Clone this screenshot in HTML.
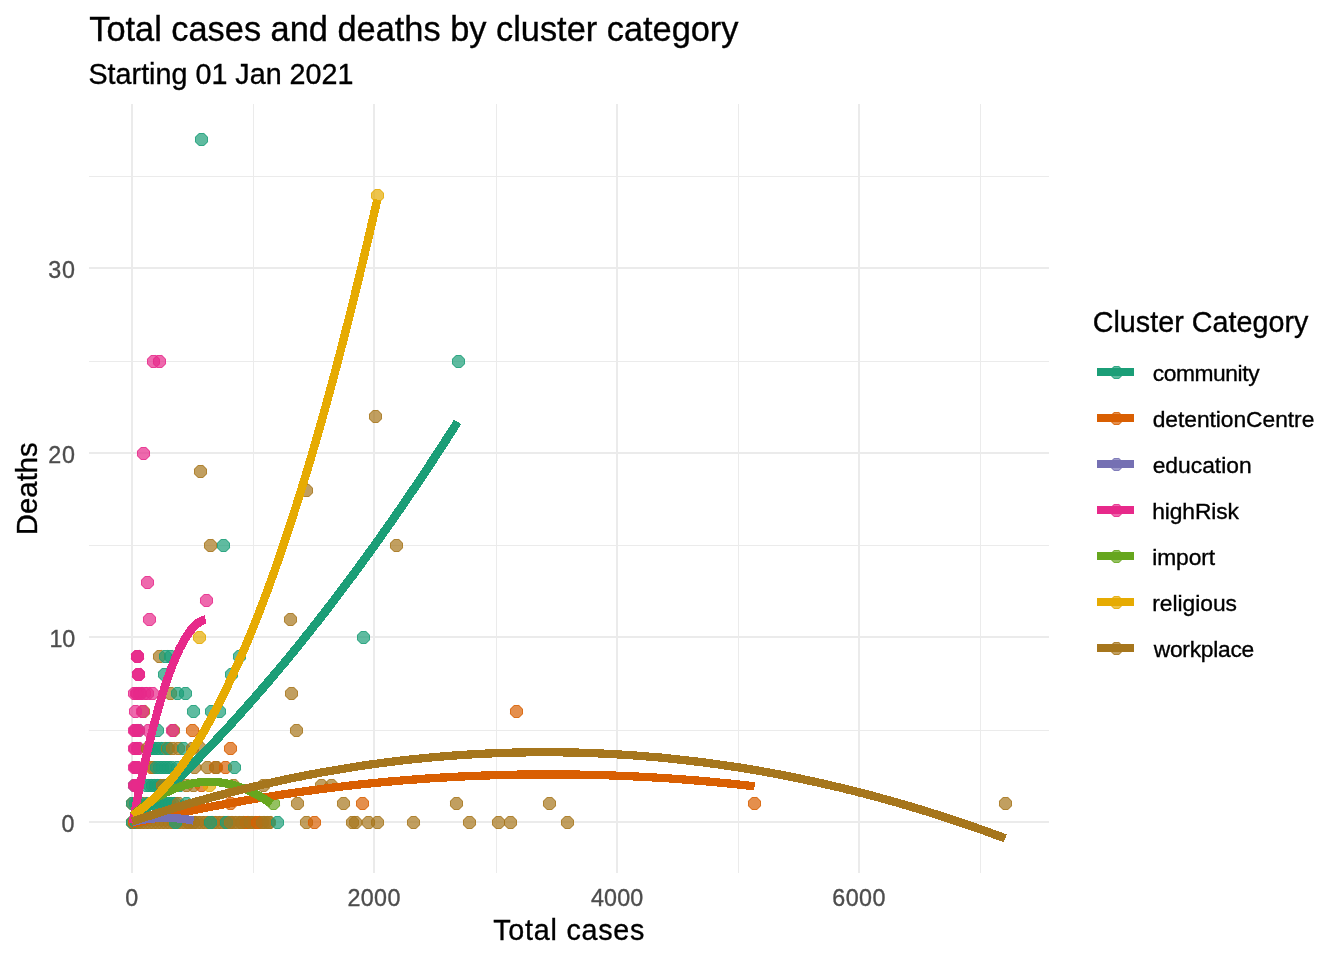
<!DOCTYPE html>
<html><head><meta charset="utf-8"><title>Total cases and deaths by cluster category</title>
<style>
html,body{margin:0;padding:0;background:#fff;}
body{width:1344px;height:960px;overflow:hidden;}
svg{display:block;font-family:"Liberation Sans",sans-serif;}
.g1{stroke:#EBEBEB;stroke-width:2;shape-rendering:crispEdges;}
.g2{stroke:#EBEBEB;stroke-width:1;shape-rendering:crispEdges;}
.tk{font-size:23.47px;fill:#4D4D4D;}
.lb{font-size:23.47px;fill:#000;}
.ax{font-size:29.33px;fill:#000;}
.pt{fill-opacity:0.7;stroke-opacity:0.7;}
.ln{fill:none;stroke-width:8.3;stroke-linejoin:round;stroke-linecap:butt;shape-rendering:crispEdges;}
</style></head><body>
<svg width="1344" height="960" viewBox="0 0 1344 960">
<rect width="1344" height="960" fill="#fff"/>
<text x="89.24" y="40.50" font-size="34.4" letter-spacing="-0.017" fill="#000" stroke="#000" stroke-width="0.35">Total cases and deaths by cluster category</text>
<text x="88.47" y="83.70" font-size="28.7" letter-spacing="0.012" fill="#000" stroke="#000" stroke-width="0.35">Starting 01 Jan 2021</text>
<line class="g2" x1="253.5" x2="253.5" y1="104.0" y2="873.0"/>
<line class="g2" x1="496.5" x2="496.5" y1="104.0" y2="873.0"/>
<line class="g2" x1="738.5" x2="738.5" y1="104.0" y2="873.0"/>
<line class="g2" x1="980.5" x2="980.5" y1="104.0" y2="873.0"/>
<line class="g2" x1="89.0" x2="1049.0" y1="730.5" y2="730.5"/>
<line class="g2" x1="89.0" x2="1049.0" y1="545.5" y2="545.5"/>
<line class="g2" x1="89.0" x2="1049.0" y1="361.5" y2="361.5"/>
<line class="g2" x1="89.0" x2="1049.0" y1="176.5" y2="176.5"/>
<line class="g1" x1="132.0" x2="132.0" y1="104.0" y2="873.0"/>
<line class="g1" x1="374.0" x2="374.0" y1="104.0" y2="873.0"/>
<line class="g1" x1="617.0" x2="617.0" y1="104.0" y2="873.0"/>
<line class="g1" x1="859.0" x2="859.0" y1="104.0" y2="873.0"/>
<line class="g1" x1="89.0" x2="1049.0" y1="822.0" y2="822.0"/>
<line class="g1" x1="89.0" x2="1049.0" y1="637.0" y2="637.0"/>
<line class="g1" x1="89.0" x2="1049.0" y1="453.0" y2="453.0"/>
<line class="g1" x1="89.0" x2="1049.0" y1="268.0" y2="268.0"/>
<defs><g id="p"><polygon stroke="none" points="-2.5,-6.5 2.5,-6.5 6.5,-2.5 6.5,2.5 2.5,6.5 -2.5,6.5 -6.5,2.5 -6.5,-2.5"/><polygon fill="none" stroke-width="1" points="-2.3,-6 2.3,-6 6,-2.3 6,2.3 2.3,6 -2.3,6 -6,2.3 -6,-2.3"/></g></defs>
<g class="pt">
<use href="#p" x="193.5" y="822.5" fill="#7570B3" stroke="#7570B3"/>
<use href="#p" x="188.5" y="822.5" fill="#D95F02" stroke="#D95F02"/>
<use href="#p" x="132.5" y="822.5" fill="#D95F02" stroke="#D95F02"/>
<use href="#p" x="132.5" y="822.5" fill="#1B9E77" stroke="#1B9E77"/>
<use href="#p" x="134.5" y="822.5" fill="#D95F02" stroke="#D95F02"/>
<use href="#p" x="136.5" y="822.5" fill="#1B9E77" stroke="#1B9E77"/>
<use href="#p" x="138.5" y="822.5" fill="#A6761D" stroke="#A6761D"/>
<use href="#p" x="141.5" y="822.5" fill="#A6761D" stroke="#A6761D"/>
<use href="#p" x="145.5" y="822.5" fill="#A6761D" stroke="#A6761D"/>
<use href="#p" x="149.5" y="822.5" fill="#A6761D" stroke="#A6761D"/>
<use href="#p" x="153.5" y="822.5" fill="#A6761D" stroke="#A6761D"/>
<use href="#p" x="157.5" y="822.5" fill="#A6761D" stroke="#A6761D"/>
<use href="#p" x="161.5" y="822.5" fill="#A6761D" stroke="#A6761D"/>
<use href="#p" x="165.5" y="822.5" fill="#A6761D" stroke="#A6761D"/>
<use href="#p" x="169.5" y="822.5" fill="#A6761D" stroke="#A6761D"/>
<use href="#p" x="173.5" y="822.5" fill="#A6761D" stroke="#A6761D"/>
<use href="#p" x="177.5" y="822.5" fill="#A6761D" stroke="#A6761D"/>
<use href="#p" x="181.5" y="822.5" fill="#A6761D" stroke="#A6761D"/>
<use href="#p" x="185.5" y="822.5" fill="#A6761D" stroke="#A6761D"/>
<use href="#p" x="189.5" y="822.5" fill="#A6761D" stroke="#A6761D"/>
<use href="#p" x="193.5" y="822.5" fill="#A6761D" stroke="#A6761D"/>
<use href="#p" x="197.5" y="822.5" fill="#A6761D" stroke="#A6761D"/>
<use href="#p" x="201.5" y="822.5" fill="#A6761D" stroke="#A6761D"/>
<use href="#p" x="205.5" y="822.5" fill="#A6761D" stroke="#A6761D"/>
<use href="#p" x="209.5" y="822.5" fill="#A6761D" stroke="#A6761D"/>
<use href="#p" x="213.5" y="822.5" fill="#A6761D" stroke="#A6761D"/>
<use href="#p" x="217.5" y="822.5" fill="#A6761D" stroke="#A6761D"/>
<use href="#p" x="221.5" y="822.5" fill="#A6761D" stroke="#A6761D"/>
<use href="#p" x="225.5" y="822.5" fill="#A6761D" stroke="#A6761D"/>
<use href="#p" x="229.5" y="822.5" fill="#A6761D" stroke="#A6761D"/>
<use href="#p" x="233.5" y="822.5" fill="#A6761D" stroke="#A6761D"/>
<use href="#p" x="237.5" y="822.5" fill="#A6761D" stroke="#A6761D"/>
<use href="#p" x="241.5" y="822.5" fill="#A6761D" stroke="#A6761D"/>
<use href="#p" x="245.5" y="822.5" fill="#A6761D" stroke="#A6761D"/>
<use href="#p" x="249.5" y="822.5" fill="#A6761D" stroke="#A6761D"/>
<use href="#p" x="253.5" y="822.5" fill="#A6761D" stroke="#A6761D"/>
<use href="#p" x="257.5" y="822.5" fill="#A6761D" stroke="#A6761D"/>
<use href="#p" x="261.5" y="822.5" fill="#A6761D" stroke="#A6761D"/>
<use href="#p" x="265.5" y="822.5" fill="#A6761D" stroke="#A6761D"/>
<use href="#p" x="269.5" y="822.5" fill="#A6761D" stroke="#A6761D"/>
<use href="#p" x="175.5" y="822.5" fill="#1B9E77" stroke="#1B9E77"/>
<use href="#p" x="210.5" y="822.5" fill="#1B9E77" stroke="#1B9E77"/>
<use href="#p" x="226.5" y="822.5" fill="#1B9E77" stroke="#1B9E77"/>
<use href="#p" x="230.5" y="822.5" fill="#A6761D" stroke="#A6761D"/>
<use href="#p" x="246.5" y="822.5" fill="#D95F02" stroke="#D95F02"/>
<use href="#p" x="241.5" y="822.5" fill="#A6761D" stroke="#A6761D"/>
<use href="#p" x="250.5" y="822.5" fill="#A6761D" stroke="#A6761D"/>
<use href="#p" x="257.5" y="822.5" fill="#D95F02" stroke="#D95F02"/>
<use href="#p" x="262.5" y="822.5" fill="#A6761D" stroke="#A6761D"/>
<use href="#p" x="268.5" y="822.5" fill="#A6761D" stroke="#A6761D"/>
<use href="#p" x="277.5" y="822.5" fill="#1B9E77" stroke="#1B9E77"/>
<use href="#p" x="306.5" y="822.5" fill="#A6761D" stroke="#A6761D"/>
<use href="#p" x="314.5" y="822.5" fill="#D95F02" stroke="#D95F02"/>
<use href="#p" x="352.5" y="822.5" fill="#A6761D" stroke="#A6761D"/>
<use href="#p" x="355.5" y="822.5" fill="#A6761D" stroke="#A6761D"/>
<use href="#p" x="368.5" y="822.5" fill="#A6761D" stroke="#A6761D"/>
<use href="#p" x="377.5" y="822.5" fill="#A6761D" stroke="#A6761D"/>
<use href="#p" x="413.5" y="822.5" fill="#A6761D" stroke="#A6761D"/>
<use href="#p" x="469.5" y="822.5" fill="#A6761D" stroke="#A6761D"/>
<use href="#p" x="498.5" y="822.5" fill="#A6761D" stroke="#A6761D"/>
<use href="#p" x="510.5" y="822.5" fill="#A6761D" stroke="#A6761D"/>
<use href="#p" x="567.5" y="822.5" fill="#A6761D" stroke="#A6761D"/>
<use href="#p" x="132.5" y="803.5" fill="#D95F02" stroke="#D95F02"/>
<use href="#p" x="132.5" y="803.5" fill="#1B9E77" stroke="#1B9E77"/>
<use href="#p" x="135.5" y="803.5" fill="#1B9E77" stroke="#1B9E77"/>
<use href="#p" x="137.5" y="803.5" fill="#1B9E77" stroke="#1B9E77"/>
<use href="#p" x="144.5" y="803.5" fill="#A6761D" stroke="#A6761D"/>
<use href="#p" x="140.5" y="803.5" fill="#1B9E77" stroke="#1B9E77"/>
<use href="#p" x="148.5" y="803.5" fill="#1B9E77" stroke="#1B9E77"/>
<use href="#p" x="151.5" y="803.5" fill="#1B9E77" stroke="#1B9E77"/>
<use href="#p" x="154.5" y="803.5" fill="#1B9E77" stroke="#1B9E77"/>
<use href="#p" x="157.5" y="803.5" fill="#1B9E77" stroke="#1B9E77"/>
<use href="#p" x="160.5" y="803.5" fill="#1B9E77" stroke="#1B9E77"/>
<use href="#p" x="163.5" y="803.5" fill="#1B9E77" stroke="#1B9E77"/>
<use href="#p" x="166.5" y="803.5" fill="#1B9E77" stroke="#1B9E77"/>
<use href="#p" x="169.5" y="803.5" fill="#1B9E77" stroke="#1B9E77"/>
<use href="#p" x="172.5" y="803.5" fill="#1B9E77" stroke="#1B9E77"/>
<use href="#p" x="175.5" y="803.5" fill="#1B9E77" stroke="#1B9E77"/>
<use href="#p" x="178.5" y="803.5" fill="#A6761D" stroke="#A6761D"/>
<use href="#p" x="186.5" y="803.5" fill="#1B9E77" stroke="#1B9E77"/>
<use href="#p" x="230.5" y="803.5" fill="#D95F02" stroke="#D95F02"/>
<use href="#p" x="273.5" y="803.5" fill="#66A61E" stroke="#66A61E"/>
<use href="#p" x="297.5" y="803.5" fill="#A6761D" stroke="#A6761D"/>
<use href="#p" x="343.5" y="803.5" fill="#A6761D" stroke="#A6761D"/>
<use href="#p" x="362.5" y="803.5" fill="#D95F02" stroke="#D95F02"/>
<use href="#p" x="456.5" y="803.5" fill="#A6761D" stroke="#A6761D"/>
<use href="#p" x="549.5" y="803.5" fill="#A6761D" stroke="#A6761D"/>
<use href="#p" x="754.5" y="803.5" fill="#D95F02" stroke="#D95F02"/>
<use href="#p" x="1005.5" y="803.5" fill="#A6761D" stroke="#A6761D"/>
<use href="#p" x="134.5" y="785.5" fill="#1B9E77" stroke="#1B9E77"/>
<use href="#p" x="134.5" y="785.5" fill="#E7298A" stroke="#E7298A"/>
<use href="#p" x="135.5" y="785.5" fill="#E7298A" stroke="#E7298A"/>
<use href="#p" x="136.5" y="785.5" fill="#E7298A" stroke="#E7298A"/>
<use href="#p" x="137.5" y="785.5" fill="#E7298A" stroke="#E7298A"/>
<use href="#p" x="146.5" y="785.5" fill="#1B9E77" stroke="#1B9E77"/>
<use href="#p" x="149.5" y="785.5" fill="#1B9E77" stroke="#1B9E77"/>
<use href="#p" x="152.5" y="785.5" fill="#1B9E77" stroke="#1B9E77"/>
<use href="#p" x="155.5" y="785.5" fill="#1B9E77" stroke="#1B9E77"/>
<use href="#p" x="158.5" y="785.5" fill="#1B9E77" stroke="#1B9E77"/>
<use href="#p" x="161.5" y="785.5" fill="#1B9E77" stroke="#1B9E77"/>
<use href="#p" x="164.5" y="785.5" fill="#1B9E77" stroke="#1B9E77"/>
<use href="#p" x="167.5" y="785.5" fill="#1B9E77" stroke="#1B9E77"/>
<use href="#p" x="170.5" y="785.5" fill="#1B9E77" stroke="#1B9E77"/>
<use href="#p" x="173.5" y="785.5" fill="#1B9E77" stroke="#1B9E77"/>
<use href="#p" x="176.5" y="785.5" fill="#1B9E77" stroke="#1B9E77"/>
<use href="#p" x="179.5" y="785.5" fill="#1B9E77" stroke="#1B9E77"/>
<use href="#p" x="162.5" y="785.5" fill="#A6761D" stroke="#A6761D"/>
<use href="#p" x="170.5" y="785.5" fill="#1B9E77" stroke="#1B9E77"/>
<use href="#p" x="186.5" y="785.5" fill="#A6761D" stroke="#A6761D"/>
<use href="#p" x="193.5" y="785.5" fill="#A6761D" stroke="#A6761D"/>
<use href="#p" x="201.5" y="785.5" fill="#D95F02" stroke="#D95F02"/>
<use href="#p" x="209.5" y="785.5" fill="#E6AB02" stroke="#E6AB02"/>
<use href="#p" x="233.5" y="785.5" fill="#A6761D" stroke="#A6761D"/>
<use href="#p" x="263.5" y="785.5" fill="#A6761D" stroke="#A6761D"/>
<use href="#p" x="321.5" y="785.5" fill="#A6761D" stroke="#A6761D"/>
<use href="#p" x="331.5" y="785.5" fill="#A6761D" stroke="#A6761D"/>
<use href="#p" x="134.5" y="767.5" fill="#E7298A" stroke="#E7298A"/>
<use href="#p" x="135.5" y="767.5" fill="#E7298A" stroke="#E7298A"/>
<use href="#p" x="136.5" y="767.5" fill="#E7298A" stroke="#E7298A"/>
<use href="#p" x="137.5" y="767.5" fill="#E7298A" stroke="#E7298A"/>
<use href="#p" x="151.5" y="767.5" fill="#D95F02" stroke="#D95F02"/>
<use href="#p" x="153.5" y="767.5" fill="#A6761D" stroke="#A6761D"/>
<use href="#p" x="156.5" y="767.5" fill="#1B9E77" stroke="#1B9E77"/>
<use href="#p" x="159.5" y="767.5" fill="#1B9E77" stroke="#1B9E77"/>
<use href="#p" x="162.5" y="767.5" fill="#1B9E77" stroke="#1B9E77"/>
<use href="#p" x="165.5" y="767.5" fill="#1B9E77" stroke="#1B9E77"/>
<use href="#p" x="168.5" y="767.5" fill="#1B9E77" stroke="#1B9E77"/>
<use href="#p" x="171.5" y="767.5" fill="#1B9E77" stroke="#1B9E77"/>
<use href="#p" x="177.5" y="767.5" fill="#1B9E77" stroke="#1B9E77"/>
<use href="#p" x="185.5" y="767.5" fill="#A6761D" stroke="#A6761D"/>
<use href="#p" x="194.5" y="767.5" fill="#A6761D" stroke="#A6761D"/>
<use href="#p" x="207.5" y="767.5" fill="#A6761D" stroke="#A6761D"/>
<use href="#p" x="215.5" y="767.5" fill="#D95F02" stroke="#D95F02"/>
<use href="#p" x="216.5" y="767.5" fill="#A6761D" stroke="#A6761D"/>
<use href="#p" x="225.5" y="767.5" fill="#D95F02" stroke="#D95F02"/>
<use href="#p" x="234.5" y="767.5" fill="#1B9E77" stroke="#1B9E77"/>
<use href="#p" x="134.5" y="748.5" fill="#E7298A" stroke="#E7298A"/>
<use href="#p" x="135.5" y="748.5" fill="#E7298A" stroke="#E7298A"/>
<use href="#p" x="137.5" y="748.5" fill="#E7298A" stroke="#E7298A"/>
<use href="#p" x="138.5" y="748.5" fill="#E7298A" stroke="#E7298A"/>
<use href="#p" x="147.5" y="748.5" fill="#A6761D" stroke="#A6761D"/>
<use href="#p" x="150.5" y="748.5" fill="#1B9E77" stroke="#1B9E77"/>
<use href="#p" x="153.5" y="748.5" fill="#1B9E77" stroke="#1B9E77"/>
<use href="#p" x="156.5" y="748.5" fill="#1B9E77" stroke="#1B9E77"/>
<use href="#p" x="159.5" y="748.5" fill="#1B9E77" stroke="#1B9E77"/>
<use href="#p" x="163.5" y="748.5" fill="#1B9E77" stroke="#1B9E77"/>
<use href="#p" x="167.5" y="748.5" fill="#A6761D" stroke="#A6761D"/>
<use href="#p" x="168.5" y="748.5" fill="#1B9E77" stroke="#1B9E77"/>
<use href="#p" x="172.5" y="748.5" fill="#A6761D" stroke="#A6761D"/>
<use href="#p" x="178.5" y="748.5" fill="#A6761D" stroke="#A6761D"/>
<use href="#p" x="183.5" y="748.5" fill="#1B9E77" stroke="#1B9E77"/>
<use href="#p" x="192.5" y="748.5" fill="#A6761D" stroke="#A6761D"/>
<use href="#p" x="200.5" y="748.5" fill="#A6761D" stroke="#A6761D"/>
<use href="#p" x="230.5" y="748.5" fill="#D95F02" stroke="#D95F02"/>
<use href="#p" x="138.5" y="730.5" fill="#1B9E77" stroke="#1B9E77"/>
<use href="#p" x="134.5" y="730.5" fill="#E7298A" stroke="#E7298A"/>
<use href="#p" x="135.5" y="730.5" fill="#E7298A" stroke="#E7298A"/>
<use href="#p" x="136.5" y="730.5" fill="#E7298A" stroke="#E7298A"/>
<use href="#p" x="138.5" y="730.5" fill="#E7298A" stroke="#E7298A"/>
<use href="#p" x="148.5" y="730.5" fill="#E7298A" stroke="#E7298A"/>
<use href="#p" x="157.5" y="730.5" fill="#1B9E77" stroke="#1B9E77"/>
<use href="#p" x="173.5" y="730.5" fill="#A6761D" stroke="#A6761D"/>
<use href="#p" x="172.5" y="730.5" fill="#E7298A" stroke="#E7298A"/>
<use href="#p" x="192.5" y="730.5" fill="#D95F02" stroke="#D95F02"/>
<use href="#p" x="296.5" y="730.5" fill="#A6761D" stroke="#A6761D"/>
<use href="#p" x="143.5" y="711.5" fill="#A6761D" stroke="#A6761D"/>
<use href="#p" x="135.5" y="711.5" fill="#E7298A" stroke="#E7298A"/>
<use href="#p" x="142.5" y="711.5" fill="#E7298A" stroke="#E7298A"/>
<use href="#p" x="193.5" y="711.5" fill="#1B9E77" stroke="#1B9E77"/>
<use href="#p" x="211.5" y="711.5" fill="#1B9E77" stroke="#1B9E77"/>
<use href="#p" x="219.5" y="711.5" fill="#1B9E77" stroke="#1B9E77"/>
<use href="#p" x="516.5" y="711.5" fill="#D95F02" stroke="#D95F02"/>
<use href="#p" x="134.5" y="693.5" fill="#E7298A" stroke="#E7298A"/>
<use href="#p" x="136.5" y="693.5" fill="#E7298A" stroke="#E7298A"/>
<use href="#p" x="137.5" y="693.5" fill="#E7298A" stroke="#E7298A"/>
<use href="#p" x="139.5" y="693.5" fill="#E7298A" stroke="#E7298A"/>
<use href="#p" x="140.5" y="693.5" fill="#E7298A" stroke="#E7298A"/>
<use href="#p" x="144.5" y="693.5" fill="#E7298A" stroke="#E7298A"/>
<use href="#p" x="147.5" y="693.5" fill="#E7298A" stroke="#E7298A"/>
<use href="#p" x="152.5" y="693.5" fill="#E7298A" stroke="#E7298A"/>
<use href="#p" x="170.5" y="693.5" fill="#A6761D" stroke="#A6761D"/>
<use href="#p" x="177.5" y="693.5" fill="#1B9E77" stroke="#1B9E77"/>
<use href="#p" x="185.5" y="693.5" fill="#1B9E77" stroke="#1B9E77"/>
<use href="#p" x="291.5" y="693.5" fill="#A6761D" stroke="#A6761D"/>
<use href="#p" x="138.5" y="674.5" fill="#E7298A" stroke="#E7298A"/>
<use href="#p" x="138.5" y="674.5" fill="#E7298A" stroke="#E7298A"/>
<use href="#p" x="138.5" y="674.5" fill="#E7298A" stroke="#E7298A"/>
<use href="#p" x="164.5" y="674.5" fill="#1B9E77" stroke="#1B9E77"/>
<use href="#p" x="231.5" y="674.5" fill="#1B9E77" stroke="#1B9E77"/>
<use href="#p" x="137.5" y="656.5" fill="#E7298A" stroke="#E7298A"/>
<use href="#p" x="137.5" y="656.5" fill="#E7298A" stroke="#E7298A"/>
<use href="#p" x="137.5" y="656.5" fill="#E7298A" stroke="#E7298A"/>
<use href="#p" x="159.5" y="656.5" fill="#A6761D" stroke="#A6761D"/>
<use href="#p" x="165.5" y="656.5" fill="#1B9E77" stroke="#1B9E77"/>
<use href="#p" x="170.5" y="656.5" fill="#1B9E77" stroke="#1B9E77"/>
<use href="#p" x="239.5" y="656.5" fill="#1B9E77" stroke="#1B9E77"/>
<use href="#p" x="199.5" y="637.5" fill="#E6AB02" stroke="#E6AB02"/>
<use href="#p" x="363.5" y="637.5" fill="#1B9E77" stroke="#1B9E77"/>
<use href="#p" x="149.5" y="619.5" fill="#E7298A" stroke="#E7298A"/>
<use href="#p" x="290.5" y="619.5" fill="#A6761D" stroke="#A6761D"/>
<use href="#p" x="206.5" y="600.5" fill="#E7298A" stroke="#E7298A"/>
<use href="#p" x="147.5" y="582.5" fill="#E7298A" stroke="#E7298A"/>
<use href="#p" x="210.5" y="545.5" fill="#A6761D" stroke="#A6761D"/>
<use href="#p" x="223.5" y="545.5" fill="#1B9E77" stroke="#1B9E77"/>
<use href="#p" x="396.5" y="545.5" fill="#A6761D" stroke="#A6761D"/>
<use href="#p" x="306.5" y="490.5" fill="#A6761D" stroke="#A6761D"/>
<use href="#p" x="200.5" y="471.5" fill="#A6761D" stroke="#A6761D"/>
<use href="#p" x="143.5" y="453.5" fill="#E7298A" stroke="#E7298A"/>
<use href="#p" x="375.5" y="416.5" fill="#A6761D" stroke="#A6761D"/>
<use href="#p" x="153.5" y="361.5" fill="#E7298A" stroke="#E7298A"/>
<use href="#p" x="159.5" y="361.5" fill="#E7298A" stroke="#E7298A"/>
<use href="#p" x="458.5" y="361.5" fill="#1B9E77" stroke="#1B9E77"/>
<use href="#p" x="377.5" y="195.5" fill="#E6AB02" stroke="#E6AB02"/>
<use href="#p" x="201.5" y="139.5" fill="#1B9E77" stroke="#1B9E77"/>
</g>
<g shape-rendering="crispEdges">
<polygon fill="#1B9E77" points="135.2,824.8 136.7,823.4 138.2,822.1 139.7,820.7 141.2,819.4 142.7,818.0 144.3,816.7 145.8,815.3 147.3,813.9 148.8,812.6 150.3,811.2 151.8,809.8 153.3,808.4 154.8,807.0 156.3,805.6 157.9,804.2 159.4,802.8 160.9,801.4 162.4,800.0 163.9,798.5 165.4,797.1 166.9,795.7 168.4,794.2 170.0,792.8 171.5,791.3 173.0,789.9 174.5,788.4 176.0,787.0 177.5,785.5 179.0,784.0 180.5,782.6 182.0,781.1 183.6,779.6 185.1,778.1 186.6,776.6 188.1,775.1 189.6,773.6 191.1,772.1 192.6,770.6 194.1,769.0 195.6,767.5 197.1,766.0 198.7,764.5 200.2,762.9 201.7,761.4 203.2,759.8 204.7,758.3 206.2,756.7 207.7,755.2 209.2,753.6 210.7,752.0 212.3,750.4 213.8,748.8 215.3,747.3 216.8,745.7 218.3,744.1 219.8,742.5 221.3,740.9 222.8,739.3 224.3,737.6 225.9,736.0 227.4,734.4 228.9,732.8 230.4,731.1 231.9,729.5 233.4,727.8 234.9,726.2 236.4,724.5 237.9,722.9 239.4,721.2 241.0,719.5 242.5,717.9 244.0,716.2 245.5,714.5 247.0,712.8 248.5,711.1 250.0,709.4 251.5,707.7 253.0,706.0 254.5,704.3 256.1,702.6 257.6,700.9 259.1,699.1 260.6,697.4 262.1,695.7 263.6,693.9 265.1,692.2 266.6,690.4 268.1,688.7 269.6,686.9 271.1,685.1 272.7,683.4 274.2,681.6 275.7,679.8 277.2,678.0 278.7,676.2 280.2,674.4 281.7,672.6 283.2,670.8 284.7,669.0 286.2,667.2 287.8,665.4 289.3,663.6 290.8,661.8 292.3,659.9 293.8,658.1 295.3,656.2 296.8,654.4 298.3,652.5 299.8,650.7 301.3,648.8 302.8,647.0 304.4,645.1 305.9,643.2 307.4,641.3 308.9,639.4 310.4,637.6 311.9,635.7 313.4,633.8 314.9,631.9 316.4,629.9 317.9,628.0 319.4,626.1 321.0,624.2 322.5,622.3 324.0,620.3 325.5,618.4 327.0,616.4 328.5,614.5 330.0,612.5 331.5,610.6 333.0,608.6 334.5,606.7 336.0,604.7 337.6,602.7 339.1,600.7 340.6,598.7 342.1,596.7 343.6,594.7 345.1,592.7 346.6,590.7 348.1,588.7 349.6,586.7 351.1,584.7 352.6,582.7 354.2,580.6 355.7,578.6 357.2,576.6 358.7,574.5 360.2,572.5 361.7,570.4 363.2,568.4 364.7,566.3 366.2,564.2 367.7,562.2 369.2,560.1 370.7,558.0 372.3,555.9 373.8,553.8 375.3,551.7 376.8,549.6 378.3,547.5 379.8,545.4 381.3,543.3 382.8,541.2 384.3,539.0 385.8,536.9 387.3,534.8 388.8,532.6 390.4,530.5 391.9,528.3 393.4,526.2 394.9,524.0 396.4,521.8 397.9,519.7 399.4,517.5 400.9,515.3 402.4,513.1 403.9,511.0 405.4,508.8 406.9,506.6 408.5,504.4 410.0,502.1 411.5,499.9 413.0,497.7 414.5,495.5 416.0,493.3 417.5,491.0 419.0,488.8 420.5,486.6 422.0,484.3 423.5,482.1 425.0,479.8 426.6,477.5 428.1,475.3 429.6,473.0 431.1,470.7 432.6,468.5 434.1,466.2 435.6,463.9 437.1,461.6 438.6,459.3 440.1,457.0 441.6,454.7 443.1,452.4 444.6,450.0 446.2,447.7 447.7,445.4 449.2,443.1 450.7,440.7 452.2,438.4 453.7,436.0 455.2,433.7 456.7,431.3 458.2,429.0 459.7,426.6 461.2,424.2 454.0,419.6 452.5,422.0 451.0,424.3 449.5,426.7 448.0,429.0 446.4,431.4 444.9,433.7 443.4,436.1 441.9,438.4 440.4,440.7 438.9,443.0 437.4,445.3 435.9,447.7 434.4,450.0 432.9,452.3 431.4,454.6 429.9,456.9 428.4,459.1 426.9,461.4 425.4,463.7 423.9,466.0 422.4,468.2 420.9,470.5 419.4,472.8 417.9,475.0 416.4,477.3 414.9,479.5 413.4,481.7 411.9,484.0 410.3,486.2 408.8,488.4 407.3,490.7 405.8,492.9 404.3,495.1 402.8,497.3 401.3,499.5 399.8,501.7 398.3,503.9 396.8,506.1 395.3,508.2 393.8,510.4 392.3,512.6 390.8,514.7 389.3,516.9 387.8,519.1 386.3,521.2 384.8,523.4 383.3,525.5 381.8,527.6 380.3,529.8 378.8,531.9 377.3,534.0 375.8,536.1 374.3,538.3 372.8,540.4 371.3,542.5 369.7,544.6 368.2,546.7 366.7,548.8 365.2,550.8 363.7,552.9 362.2,555.0 360.7,557.1 359.2,559.1 357.7,561.2 356.2,563.2 354.7,565.3 353.2,567.3 351.7,569.4 350.2,571.4 348.7,573.4 347.2,575.5 345.7,577.5 344.2,579.5 342.7,581.5 341.2,583.5 339.7,585.5 338.2,587.5 336.7,589.5 335.2,591.5 333.7,593.5 332.2,595.5 330.7,597.4 329.2,599.4 327.7,601.4 326.1,603.3 324.6,605.3 323.1,607.2 321.6,609.2 320.1,611.1 318.6,613.1 317.1,615.0 315.6,616.9 314.1,618.8 312.6,620.7 311.1,622.7 309.6,624.6 308.1,626.5 306.6,628.4 305.1,630.3 303.6,632.1 302.1,634.0 300.6,635.9 299.1,637.8 297.6,639.6 296.1,641.5 294.6,643.4 293.1,645.2 291.6,647.1 290.1,648.9 288.6,650.7 287.1,652.6 285.6,654.4 284.1,656.2 282.6,658.0 281.1,659.9 279.6,661.7 278.1,663.5 276.6,665.3 275.1,667.1 273.5,668.9 272.0,670.6 270.5,672.4 269.0,674.2 267.5,676.0 266.0,677.7 264.5,679.5 263.0,681.2 261.5,683.0 260.0,684.7 258.5,686.5 257.0,688.2 255.5,690.0 254.0,691.7 252.5,693.4 251.0,695.1 249.5,696.8 248.0,698.5 246.5,700.2 245.0,701.9 243.5,703.6 242.0,705.3 240.5,707.0 239.0,708.7 237.5,710.4 236.0,712.0 234.5,713.7 233.0,715.4 231.5,717.0 230.0,718.7 228.5,720.3 227.0,722.0 225.5,723.6 224.0,725.2 222.5,726.8 221.0,728.5 219.5,730.1 218.0,731.7 216.5,733.3 215.0,734.9 213.5,736.5 212.0,738.1 210.5,739.7 209.0,741.3 207.5,742.8 206.0,744.4 204.5,746.0 203.0,747.5 201.5,749.1 200.0,750.7 198.5,752.2 196.9,753.7 195.4,755.3 193.9,756.8 192.4,758.4 190.9,759.9 189.4,761.4 187.9,762.9 186.4,764.4 184.9,765.9 183.4,767.4 181.9,768.9 180.4,770.4 178.9,771.9 177.4,773.4 175.9,774.9 174.4,776.3 172.9,777.8 171.4,779.3 169.9,780.7 168.4,782.2 166.9,783.6 165.4,785.1 163.9,786.5 162.4,787.9 160.9,789.4 159.4,790.8 157.9,792.2 156.4,793.6 154.9,795.0 153.4,796.4 151.9,797.8 150.4,799.2 148.9,800.6 147.4,802.0 145.9,803.4 144.4,804.8 142.9,806.1 141.4,807.5 139.9,808.8 138.4,810.2 136.9,811.6 135.4,812.9 133.9,814.2 132.4,815.6 130.9,816.9 129.4,818.2"/>
<polygon fill="#D95F02" points="133.4,827.6 134.9,827.3 136.4,826.9 137.9,826.6 139.4,826.2 140.9,825.9 142.4,825.5 143.9,825.2 145.4,824.8 146.9,824.5 148.4,824.1 149.9,823.8 151.4,823.5 152.9,823.1 154.4,822.8 155.9,822.5 157.4,822.1 158.9,821.8 160.4,821.5 161.9,821.1 163.4,820.8 164.8,820.5 166.3,820.1 167.8,819.8 169.3,819.5 170.8,819.2 172.3,818.8 173.8,818.5 175.3,818.2 176.8,817.9 178.3,817.6 179.8,817.3 181.3,816.9 182.8,816.6 184.3,816.3 185.8,816.0 187.3,815.7 188.8,815.4 190.3,815.1 191.8,814.8 193.3,814.5 194.8,814.2 196.3,813.9 197.8,813.6 199.3,813.3 200.8,813.0 202.3,812.7 203.8,812.4 205.3,812.1 206.8,811.8 208.3,811.5 209.8,811.2 211.3,810.9 212.8,810.6 214.3,810.3 215.8,810.1 217.3,809.8 218.8,809.5 220.3,809.2 221.8,808.9 223.3,808.7 224.8,808.4 226.3,808.1 227.8,807.8 229.3,807.6 230.8,807.3 232.3,807.0 233.8,806.7 235.3,806.5 236.8,806.2 238.3,805.9 239.8,805.7 241.3,805.4 242.8,805.2 244.3,804.9 245.8,804.6 247.3,804.4 248.8,804.1 250.3,803.9 251.8,803.6 253.3,803.4 254.8,803.1 256.3,802.9 257.8,802.6 259.3,802.4 260.8,802.1 262.3,801.9 263.8,801.6 265.3,801.4 266.8,801.1 268.3,800.9 269.8,800.7 271.3,800.4 272.8,800.2 274.3,800.0 275.8,799.7 277.3,799.5 278.8,799.3 280.3,799.0 281.8,798.8 283.3,798.6 284.8,798.3 286.3,798.1 287.8,797.9 289.3,797.7 290.8,797.5 292.3,797.2 293.8,797.0 295.3,796.8 296.8,796.6 298.3,796.4 299.8,796.2 301.3,795.9 302.8,795.7 304.3,795.5 305.8,795.3 307.3,795.1 308.8,794.9 310.3,794.7 311.8,794.5 313.3,794.3 314.8,794.1 316.3,793.9 317.8,793.7 319.3,793.5 320.8,793.3 322.3,793.1 323.8,792.9 325.3,792.7 326.8,792.5 328.3,792.3 329.8,792.2 331.3,792.0 332.8,791.8 334.3,791.6 335.8,791.4 337.3,791.2 338.8,791.1 340.3,790.9 341.8,790.7 343.3,790.5 344.8,790.4 346.3,790.2 347.8,790.0 349.3,789.8 350.8,789.7 352.3,789.5 353.8,789.3 355.3,789.2 356.8,789.0 358.3,788.8 359.8,788.7 361.3,788.5 362.8,788.4 364.3,788.2 365.8,788.0 367.3,787.9 368.8,787.7 370.3,787.6 371.8,787.4 373.3,787.3 374.8,787.1 376.3,787.0 377.8,786.8 379.3,786.7 380.8,786.5 382.3,786.4 383.8,786.3 385.3,786.1 386.8,786.0 388.3,785.8 389.8,785.7 391.3,785.6 392.8,785.4 394.3,785.3 395.8,785.2 397.3,785.0 398.8,784.9 400.3,784.8 401.8,784.7 403.3,784.5 404.8,784.4 406.3,784.3 407.8,784.2 409.3,784.0 410.8,783.9 412.3,783.8 413.8,783.7 415.3,783.6 416.8,783.5 418.3,783.4 419.8,783.2 421.3,783.1 422.8,783.0 424.3,782.9 425.8,782.8 427.3,782.7 428.8,782.6 430.3,782.5 431.8,782.4 433.3,782.3 434.8,782.2 436.3,782.1 437.8,782.0 439.2,781.9 440.7,781.8 442.2,781.7 443.7,781.6 445.2,781.6 446.7,781.5 448.2,781.4 449.7,781.3 451.2,781.2 452.7,781.1 454.2,781.0 455.7,781.0 457.2,780.9 458.7,780.8 460.2,780.7 461.7,780.7 463.2,780.6 464.7,780.5 466.2,780.4 467.7,780.4 469.2,780.3 470.7,780.2 472.2,780.2 473.7,780.1 475.2,780.0 476.7,780.0 478.2,779.9 479.7,779.9 481.2,779.8 482.7,779.7 484.2,779.7 485.7,779.6 487.2,779.6 488.7,779.5 490.2,779.5 491.7,779.4 493.2,779.4 494.7,779.3 496.2,779.3 497.7,779.2 499.2,779.2 500.7,779.2 502.2,779.1 503.7,779.1 505.2,779.0 506.7,779.0 508.2,779.0 509.7,778.9 511.2,778.9 512.7,778.9 514.2,778.8 515.7,778.8 517.2,778.8 518.7,778.7 520.2,778.7 521.7,778.7 523.2,778.7 524.7,778.7 526.2,778.6 527.7,778.6 529.2,778.6 530.7,778.6 532.2,778.6 533.7,778.6 535.2,778.5 536.7,778.5 538.2,778.5 539.7,778.5 541.2,778.5 542.7,778.5 544.2,778.5 545.7,778.5 547.2,778.5 548.7,778.5 550.2,778.5 551.7,778.5 553.2,778.5 554.7,778.5 556.2,778.5 557.7,778.5 559.2,778.5 560.7,778.5 562.2,778.5 563.7,778.5 565.2,778.6 566.7,778.6 568.2,778.6 569.7,778.6 571.2,778.6 572.7,778.6 574.2,778.7 575.7,778.7 577.2,778.7 578.7,778.7 580.2,778.8 581.7,778.8 583.2,778.8 584.7,778.8 586.2,778.9 587.7,778.9 589.2,778.9 590.7,779.0 592.2,779.0 593.7,779.0 595.2,779.1 596.7,779.1 598.2,779.2 599.7,779.2 601.2,779.3 602.7,779.3 604.2,779.3 605.7,779.4 607.2,779.4 608.7,779.5 610.2,779.5 611.7,779.6 613.2,779.7 614.7,779.7 616.2,779.8 617.7,779.8 619.2,779.9 620.7,779.9 622.2,780.0 623.7,780.1 625.2,780.1 626.7,780.2 628.2,780.3 629.7,780.3 631.2,780.4 632.7,780.5 634.2,780.5 635.7,780.6 637.2,780.7 638.7,780.8 640.2,780.8 641.7,780.9 643.2,781.0 644.7,781.1 646.2,781.2 647.7,781.2 649.2,781.3 650.7,781.4 652.2,781.5 653.7,781.6 655.2,781.7 656.7,781.8 658.2,781.9 659.7,782.0 661.2,782.1 662.7,782.1 664.2,782.2 665.7,782.3 667.2,782.4 668.7,782.5 670.2,782.6 671.7,782.8 673.2,782.9 674.7,783.0 676.2,783.1 677.6,783.2 679.1,783.3 680.6,783.4 682.1,783.5 683.6,783.6 685.1,783.7 686.6,783.9 688.1,784.0 689.6,784.1 691.1,784.2 692.6,784.3 694.1,784.5 695.6,784.6 697.1,784.7 698.6,784.8 700.1,785.0 701.6,785.1 703.1,785.2 704.6,785.4 706.1,785.5 707.6,785.6 709.1,785.8 710.6,785.9 712.1,786.0 713.6,786.2 715.1,786.3 716.6,786.5 718.1,786.6 719.6,786.8 721.1,786.9 722.6,787.0 724.1,787.2 725.6,787.3 727.1,787.5 728.6,787.6 730.1,787.8 731.6,788.0 733.1,788.1 734.6,788.3 736.1,788.4 737.6,788.6 739.1,788.7 740.6,788.9 742.1,789.1 743.6,789.2 745.1,789.4 746.6,789.6 748.1,789.7 749.6,789.9 751.1,790.1 752.6,790.3 754.1,790.4 755.1,782.2 753.6,782.0 752.1,781.8 750.6,781.7 749.1,781.5 747.5,781.3 746.0,781.2 744.5,781.0 743.0,780.8 741.5,780.7 740.0,780.5 738.5,780.3 737.0,780.2 735.5,780.0 734.0,779.9 732.5,779.7 731.0,779.5 729.5,779.4 728.0,779.2 726.5,779.1 725.0,778.9 723.4,778.8 721.9,778.6 720.4,778.5 718.9,778.3 717.4,778.2 715.9,778.1 714.4,777.9 712.9,777.8 711.4,777.6 709.9,777.5 708.4,777.4 706.9,777.2 705.4,777.1 703.9,777.0 702.4,776.8 700.9,776.7 699.3,776.6 697.8,776.4 696.3,776.3 694.8,776.2 693.3,776.1 691.8,775.9 690.3,775.8 688.8,775.7 687.3,775.6 685.8,775.5 684.3,775.4 682.8,775.2 681.3,775.1 679.8,775.0 678.3,774.9 676.7,774.8 675.2,774.7 673.7,774.6 672.2,774.5 670.7,774.4 669.2,774.3 667.7,774.2 666.2,774.1 664.7,774.0 663.2,773.9 661.7,773.8 660.2,773.7 658.7,773.6 657.2,773.5 655.7,773.4 654.2,773.3 652.6,773.2 651.1,773.1 649.6,773.0 648.1,773.0 646.6,772.9 645.1,772.8 643.6,772.7 642.1,772.6 640.6,772.6 639.1,772.5 637.6,772.4 636.1,772.3 634.6,772.3 633.1,772.2 631.6,772.1 630.0,772.0 628.5,772.0 627.0,771.9 625.5,771.8 624.0,771.8 622.5,771.7 621.0,771.6 619.5,771.6 618.0,771.5 616.5,771.5 615.0,771.4 613.5,771.4 612.0,771.3 610.5,771.2 609.0,771.2 607.5,771.1 605.9,771.1 604.4,771.1 602.9,771.0 601.4,771.0 599.9,770.9 598.4,770.9 596.9,770.8 595.4,770.8 593.9,770.8 592.4,770.7 590.9,770.7 589.4,770.6 587.9,770.6 586.4,770.6 584.9,770.5 583.3,770.5 581.8,770.5 580.3,770.5 578.8,770.4 577.3,770.4 575.8,770.4 574.3,770.4 572.8,770.3 571.3,770.3 569.8,770.3 568.3,770.3 566.8,770.3 565.3,770.3 563.8,770.2 562.3,770.2 560.8,770.2 559.2,770.2 557.7,770.2 556.2,770.2 554.7,770.2 553.2,770.2 551.7,770.2 550.2,770.2 548.7,770.2 547.2,770.2 545.7,770.2 544.2,770.2 542.7,770.2 541.2,770.2 539.7,770.2 538.2,770.2 536.7,770.2 535.1,770.2 533.6,770.3 532.1,770.3 530.6,770.3 529.1,770.3 527.6,770.3 526.1,770.3 524.6,770.4 523.1,770.4 521.6,770.4 520.1,770.4 518.6,770.4 517.1,770.5 515.6,770.5 514.1,770.5 512.5,770.6 511.0,770.6 509.5,770.6 508.0,770.7 506.5,770.7 505.0,770.7 503.5,770.8 502.0,770.8 500.5,770.9 499.0,770.9 497.5,770.9 496.0,771.0 494.5,771.0 493.0,771.1 491.5,771.1 490.0,771.2 488.4,771.2 486.9,771.3 485.4,771.3 483.9,771.4 482.4,771.4 480.9,771.5 479.4,771.6 477.9,771.6 476.4,771.7 474.9,771.7 473.4,771.8 471.9,771.9 470.4,771.9 468.9,772.0 467.4,772.1 465.8,772.1 464.3,772.2 462.8,772.3 461.3,772.4 459.8,772.4 458.3,772.5 456.8,772.6 455.3,772.7 453.8,772.8 452.3,772.8 450.8,772.9 449.3,773.0 447.8,773.1 446.3,773.2 444.8,773.3 443.3,773.4 441.7,773.4 440.2,773.5 438.7,773.6 437.2,773.7 435.7,773.8 434.2,773.9 432.7,774.0 431.2,774.1 429.7,774.2 428.2,774.3 426.7,774.4 425.2,774.5 423.7,774.6 422.2,774.7 420.7,774.9 419.1,775.0 417.6,775.1 416.1,775.2 414.6,775.3 413.1,775.4 411.6,775.5 410.1,775.6 408.6,775.8 407.1,775.9 405.6,776.0 404.1,776.1 402.6,776.3 401.1,776.4 399.6,776.5 398.1,776.6 396.6,776.8 395.0,776.9 393.5,777.0 392.0,777.2 390.5,777.3 389.0,777.4 387.5,777.6 386.0,777.7 384.5,777.8 383.0,778.0 381.5,778.1 380.0,778.3 378.5,778.4 377.0,778.6 375.5,778.7 374.0,778.9 372.5,779.0 370.9,779.2 369.4,779.3 367.9,779.5 366.4,779.6 364.9,779.8 363.4,779.9 361.9,780.1 360.4,780.3 358.9,780.4 357.4,780.6 355.9,780.7 354.4,780.9 352.9,781.1 351.4,781.2 349.9,781.4 348.3,781.6 346.8,781.8 345.3,781.9 343.8,782.1 342.3,782.3 340.8,782.5 339.3,782.6 337.8,782.8 336.3,783.0 334.8,783.2 333.3,783.4 331.8,783.5 330.3,783.7 328.8,783.9 327.3,784.1 325.8,784.3 324.2,784.5 322.7,784.7 321.2,784.9 319.7,785.1 318.2,785.3 316.7,785.5 315.2,785.7 313.7,785.9 312.2,786.1 310.7,786.3 309.2,786.5 307.7,786.7 306.2,786.9 304.7,787.1 303.2,787.3 301.7,787.5 300.1,787.7 298.6,787.9 297.1,788.1 295.6,788.4 294.1,788.6 292.6,788.8 291.1,789.0 289.6,789.2 288.1,789.5 286.6,789.7 285.1,789.9 283.6,790.1 282.1,790.4 280.6,790.6 279.1,790.8 277.6,791.0 276.0,791.3 274.5,791.5 273.0,791.7 271.5,792.0 270.0,792.2 268.5,792.5 267.0,792.7 265.5,792.9 264.0,793.2 262.5,793.4 261.0,793.7 259.5,793.9 258.0,794.2 256.5,794.4 255.0,794.7 253.4,794.9 251.9,795.2 250.4,795.4 248.9,795.7 247.4,795.9 245.9,796.2 244.4,796.4 242.9,796.7 241.4,797.0 239.9,797.2 238.4,797.5 236.9,797.8 235.4,798.0 233.9,798.3 232.4,798.6 230.9,798.8 229.3,799.1 227.8,799.4 226.3,799.6 224.8,799.9 223.3,800.2 221.8,800.5 220.3,800.8 218.8,801.0 217.3,801.3 215.8,801.6 214.3,801.9 212.8,802.2 211.3,802.5 209.8,802.7 208.3,803.0 206.8,803.3 205.2,803.6 203.7,803.9 202.2,804.2 200.7,804.5 199.2,804.8 197.7,805.1 196.2,805.4 194.7,805.7 193.2,806.0 191.7,806.3 190.2,806.6 188.7,806.9 187.2,807.2 185.7,807.5 184.2,807.8 182.7,808.2 181.1,808.5 179.6,808.8 178.1,809.1 176.6,809.4 175.1,809.7 173.6,810.1 172.1,810.4 170.6,810.7 169.1,811.0 167.6,811.3 166.1,811.7 164.6,812.0 163.1,812.3 161.6,812.7 160.1,813.0 158.6,813.3 157.0,813.7 155.5,814.0 154.0,814.3 152.5,814.7 151.0,815.0 149.5,815.3 148.0,815.7 146.5,816.0 145.0,816.4 143.5,816.7 142.0,817.1 140.5,817.4 139.0,817.7 137.5,818.1 136.0,818.5 134.5,818.8 132.9,819.2 131.4,819.5"/>
<polygon fill="#7570B3" points="133.4,826.1 134.9,825.7 136.4,825.4 137.9,825.0 139.3,824.7 140.8,824.4 142.3,824.2 143.8,823.9 145.3,823.7 146.8,823.4 148.3,823.2 149.7,823.0 151.2,822.9 152.7,822.7 154.2,822.6 155.7,822.4 157.2,822.3 158.6,822.2 160.1,822.2 161.6,822.1 163.1,822.1 164.6,822.0 166.1,822.0 167.5,822.0 169.0,822.1 170.5,822.1 172.0,822.2 173.5,822.2 175.0,822.3 176.4,822.4 177.9,822.6 179.4,822.7 180.9,822.9 182.4,823.0 183.9,823.2 185.4,823.4 186.8,823.7 188.3,823.9 189.8,824.2 191.3,824.4 192.8,824.7 194.4,816.6 192.8,816.3 191.3,816.0 189.7,815.7 188.1,815.4 186.5,815.2 185.0,815.0 183.4,814.8 181.8,814.6 180.2,814.4 178.7,814.3 177.1,814.2 175.5,814.0 173.9,814.0 172.4,813.9 170.8,813.8 169.2,813.8 167.6,813.7 166.1,813.7 164.5,813.7 162.9,813.8 161.3,813.8 159.8,813.9 158.2,814.0 156.6,814.1 155.0,814.2 153.5,814.3 151.9,814.5 150.3,814.6 148.7,814.8 147.1,815.0 145.6,815.2 144.0,815.5 142.4,815.7 140.8,816.0 139.3,816.3 137.7,816.6 136.1,816.9 134.6,817.2 133.0,817.6 131.4,818.0"/>
<polygon fill="#E7298A" points="136.7,824.1 138.2,816.0 139.7,808.1 141.2,800.3 142.8,792.7 144.3,785.3 145.8,778.1 147.3,771.0 148.8,764.0 150.4,757.3 151.9,750.7 153.4,744.2 154.9,738.0 156.4,731.9 157.9,725.9 159.4,720.1 161.0,714.5 162.5,709.1 164.0,703.8 165.5,698.7 167.0,693.7 168.5,689.0 170.0,684.3 171.5,679.9 173.1,675.6 174.6,671.5 176.1,667.5 177.6,663.8 179.1,660.1 180.6,656.7 182.1,653.4 183.6,650.3 185.1,647.4 186.5,644.6 188.0,642.0 189.5,639.6 190.9,637.4 192.4,635.3 193.8,633.4 195.2,631.7 196.6,630.1 198.0,628.7 199.3,627.5 200.6,626.5 201.8,625.6 203.0,624.8 204.2,624.2 205.4,623.7 206.5,623.4 204.7,615.3 202.8,615.8 200.9,616.4 199.0,617.3 197.2,618.3 195.4,619.5 193.6,620.9 191.9,622.5 190.2,624.2 188.6,626.0 187.0,628.1 185.4,630.3 183.8,632.6 182.2,635.1 180.6,637.7 179.0,640.5 177.5,643.5 175.9,646.6 174.4,649.8 172.8,653.3 171.3,656.9 169.8,660.6 168.2,664.5 166.7,668.6 165.1,672.8 163.6,677.2 162.1,681.7 160.5,686.4 159.0,691.3 157.5,696.3 156.0,701.5 154.4,706.8 152.9,712.3 151.4,718.0 149.9,723.8 148.3,729.8 146.8,736.0 145.3,742.3 143.7,748.8 142.2,755.4 140.7,762.2 139.2,769.2 137.7,776.3 136.1,783.6 134.6,791.1 133.1,798.7 131.6,806.5 130.0,814.4 128.5,822.6"/>
<polygon fill="#66A61E" points="135.5,818.8 136.9,817.5 138.4,816.2 139.9,815.0 141.4,813.8 142.8,812.6 144.3,811.4 145.8,810.3 147.3,809.2 148.7,808.1 150.2,807.1 151.7,806.1 153.1,805.1 154.6,804.1 156.0,803.1 157.5,802.2 159.0,801.3 160.4,800.4 161.9,799.6 163.3,798.8 164.8,798.0 166.3,797.2 167.7,796.4 169.2,795.7 170.6,795.0 172.1,794.4 173.5,793.7 175.0,793.1 176.4,792.5 177.9,791.9 179.3,791.4 180.8,790.9 182.2,790.4 183.7,789.9 185.1,789.5 186.5,789.1 188.0,788.7 189.4,788.3 190.9,788.0 192.3,787.7 193.8,787.4 195.2,787.1 196.6,786.9 198.1,786.7 199.5,786.5 201.0,786.4 202.4,786.2 203.8,786.1 205.3,786.0 206.7,786.0 208.1,785.9 209.6,785.9 211.0,785.9 212.5,786.0 213.9,786.1 215.3,786.1 216.8,786.3 218.2,786.4 219.7,786.6 221.1,786.8 222.5,787.0 224.0,787.2 225.4,787.5 226.9,787.8 228.3,788.1 229.7,788.4 231.2,788.8 232.6,789.2 234.1,789.6 235.5,790.1 237.0,790.6 238.4,791.0 239.9,791.6 241.3,792.1 242.8,792.7 244.2,793.3 245.7,793.9 247.1,794.6 248.6,795.2 250.0,795.9 251.5,796.7 252.9,797.4 254.4,798.2 255.8,799.0 257.3,799.8 258.8,800.7 260.2,801.6 261.7,802.5 263.1,803.4 264.6,804.4 266.1,805.4 267.5,806.4 269.0,807.4 274.0,800.4 272.5,799.3 270.9,798.2 269.3,797.2 267.8,796.2 266.2,795.2 264.7,794.2 263.1,793.3 261.6,792.4 260.0,791.5 258.4,790.7 256.9,789.9 255.3,789.1 253.7,788.3 252.2,787.6 250.6,786.8 249.0,786.2 247.5,785.5 245.9,784.9 244.3,784.3 242.7,783.7 241.2,783.1 239.6,782.6 238.0,782.1 236.5,781.6 234.9,781.2 233.3,780.7 231.7,780.3 230.2,780.0 228.6,779.6 227.0,779.3 225.4,779.0 223.8,778.8 222.3,778.5 220.7,778.3 219.1,778.1 217.5,778.0 215.9,777.9 214.4,777.8 212.8,777.7 211.2,777.6 209.6,777.6 208.0,777.6 206.4,777.7 204.9,777.7 203.3,777.8 201.7,778.0 200.1,778.1 198.5,778.3 197.0,778.5 195.4,778.7 193.8,778.9 192.2,779.2 190.6,779.5 189.1,779.9 187.5,780.2 185.9,780.6 184.3,781.0 182.8,781.5 181.2,781.9 179.6,782.4 178.0,782.9 176.5,783.5 174.9,784.1 173.3,784.7 171.8,785.3 170.2,785.9 168.6,786.6 167.0,787.3 165.5,788.1 163.9,788.8 162.4,789.6 160.8,790.4 159.2,791.3 157.7,792.1 156.1,793.0 154.5,793.9 153.0,794.9 151.4,795.9 149.9,796.9 148.3,797.9 146.8,798.9 145.2,800.0 143.7,801.1 142.1,802.3 140.6,803.4 139.0,804.6 137.5,805.8 135.9,807.0 134.4,808.3 132.8,809.6 131.3,810.9 129.7,812.2"/>
<polygon fill="#E6AB02" points="134.9,818.9 136.5,817.9 138.0,816.9 139.6,815.8 141.1,814.7 142.7,813.6 144.2,812.4 145.8,811.2 147.4,810.0 148.9,808.7 150.4,807.4 152.0,806.1 153.5,804.7 155.1,803.3 156.6,801.8 158.2,800.3 159.7,798.8 161.2,797.3 162.8,795.7 164.3,794.1 165.8,792.4 167.4,790.7 168.9,789.0 170.4,787.2 172.0,785.4 173.5,783.6 175.0,781.7 176.5,779.8 178.1,777.9 179.6,775.9 181.1,773.9 182.6,771.9 184.1,769.8 185.7,767.7 187.2,765.6 188.7,763.4 190.2,761.2 191.7,759.0 193.2,756.7 194.8,754.4 196.3,752.0 197.8,749.7 199.3,747.3 200.8,744.8 202.3,742.3 203.8,739.8 205.4,737.3 206.9,734.7 208.4,732.1 209.9,729.4 211.4,726.7 212.9,724.0 214.4,721.2 215.9,718.5 217.4,715.6 218.9,712.8 220.5,709.9 222.0,707.0 223.5,704.0 225.0,701.0 226.5,698.0 228.0,694.9 229.5,691.8 231.0,688.7 232.5,685.5 234.0,682.3 235.5,679.1 237.0,675.8 238.5,672.5 240.0,669.1 241.6,665.8 243.1,662.3 244.6,658.9 246.1,655.4 247.6,651.9 249.1,648.4 250.6,644.8 252.1,641.2 253.6,637.5 255.1,633.8 256.6,630.1 258.1,626.3 259.6,622.5 261.1,618.7 262.6,614.9 264.1,611.0 265.6,607.0 267.1,603.1 268.6,599.1 270.2,595.0 271.7,591.0 273.2,586.9 274.7,582.7 276.2,578.6 277.7,574.4 279.2,570.1 280.7,565.9 282.2,561.5 283.7,557.2 285.2,552.8 286.7,548.4 288.2,544.0 289.7,539.5 291.2,535.0 292.7,530.4 294.2,525.8 295.7,521.2 297.2,516.5 298.7,511.9 300.2,507.1 301.7,502.4 303.2,497.6 304.7,492.7 306.2,487.9 307.7,483.0 309.2,478.1 310.7,473.1 312.3,468.1 313.8,463.0 315.3,458.0 316.8,452.9 318.3,447.7 319.8,442.6 321.3,437.3 322.8,432.1 324.3,426.8 325.8,421.5 327.3,416.2 328.8,410.8 330.3,405.4 331.8,399.9 333.3,394.4 334.8,388.9 336.3,383.3 337.8,377.7 339.3,372.1 340.8,366.5 342.3,360.8 343.8,355.0 345.3,349.3 346.8,343.5 348.3,337.6 349.8,331.8 351.3,325.9 352.8,319.9 354.3,313.9 355.8,307.9 357.3,301.9 358.8,295.8 360.3,289.7 361.8,283.6 363.3,277.4 364.8,271.2 366.3,264.9 367.8,258.6 369.3,252.3 370.8,245.9 372.4,239.6 373.9,233.1 375.4,226.7 376.9,220.2 378.4,213.6 379.9,207.1 381.4,200.5 373.2,198.6 371.7,205.2 370.2,211.8 368.7,218.3 367.2,224.8 365.7,231.2 364.2,237.7 362.7,244.0 361.2,250.4 359.7,256.7 358.2,263.0 356.7,269.2 355.2,275.4 353.7,281.6 352.2,287.7 350.7,293.8 349.2,299.9 347.7,305.9 346.2,311.9 344.7,317.9 343.2,323.8 341.7,329.7 340.2,335.6 338.7,341.4 337.2,347.2 335.7,352.9 334.2,358.6 332.7,364.3 331.2,370.0 329.7,375.6 328.2,381.2 326.7,386.7 325.2,392.2 323.7,397.7 322.2,403.1 320.7,408.5 319.2,413.9 317.7,419.2 316.2,424.5 314.7,429.8 313.2,435.0 311.7,440.2 310.2,445.4 308.7,450.5 307.2,455.6 305.7,460.7 304.2,465.7 302.7,470.7 301.2,475.6 299.7,480.5 298.2,485.4 296.7,490.3 295.2,495.1 293.7,499.9 292.2,504.6 290.7,509.3 289.2,514.0 287.7,518.6 286.2,523.2 284.7,527.8 283.2,532.3 281.7,536.8 280.2,541.3 278.7,545.7 277.2,550.1 275.8,554.5 274.3,558.8 272.8,563.1 271.3,567.3 269.8,571.5 268.3,575.7 266.8,579.9 265.3,584.0 263.8,588.1 262.3,592.1 260.8,596.1 259.3,600.1 257.8,604.0 256.3,607.9 254.8,611.8 253.3,615.6 251.8,619.4 250.3,623.2 248.8,626.9 247.3,630.6 245.8,634.3 244.3,637.9 242.8,641.5 241.3,645.1 239.8,648.6 238.3,652.1 236.8,655.5 235.3,658.9 233.8,662.3 232.3,665.7 230.8,669.0 229.3,672.2 227.8,675.5 226.3,678.7 224.8,681.9 223.3,685.0 221.9,688.1 220.4,691.2 218.9,694.2 217.4,697.2 215.9,700.1 214.4,703.1 212.9,705.9 211.4,708.8 209.9,711.6 208.4,714.4 206.9,717.2 205.4,719.9 203.9,722.5 202.4,725.2 200.9,727.8 199.5,730.4 198.0,732.9 196.5,735.4 195.0,737.9 193.5,740.3 192.0,742.7 190.5,745.1 189.0,747.4 187.5,749.7 186.1,751.9 184.6,754.2 183.1,756.3 181.6,758.5 180.1,760.6 178.6,762.7 177.1,764.7 175.7,766.7 174.2,768.7 172.7,770.7 171.2,772.6 169.7,774.4 168.3,776.3 166.8,778.1 165.3,779.8 163.8,781.5 162.4,783.2 160.9,784.9 159.4,786.5 157.9,788.1 156.5,789.7 155.0,791.2 153.5,792.7 152.1,794.1 150.6,795.5 149.1,796.9 147.7,798.2 146.2,799.5 144.8,800.8 143.3,802.1 141.9,803.3 140.4,804.4 139.0,805.6 137.5,806.7 136.1,807.7 134.6,808.8 133.2,809.8 131.7,810.7 130.3,811.7"/>
<polygon fill="#A6761D" points="133.7,825.4 135.2,824.9 136.7,824.4 138.2,823.9 139.7,823.4 141.2,822.9 142.7,822.4 144.2,821.9 145.7,821.4 147.2,820.9 148.7,820.4 150.2,819.9 151.7,819.5 153.2,819.0 154.7,818.5 156.2,818.0 157.7,817.5 159.2,817.1 160.7,816.6 162.2,816.1 163.7,815.7 165.2,815.2 166.7,814.7 168.2,814.3 169.7,813.8 171.2,813.4 172.7,812.9 174.2,812.4 175.7,812.0 177.2,811.5 178.7,811.1 180.2,810.6 181.7,810.2 183.2,809.8 184.7,809.3 186.2,808.9 187.7,808.4 189.1,808.0 190.6,807.6 192.1,807.1 193.6,806.7 195.1,806.3 196.6,805.8 198.1,805.4 199.6,805.0 201.1,804.6 202.6,804.2 204.1,803.7 205.6,803.3 207.1,802.9 208.6,802.5 210.1,802.1 211.6,801.7 213.1,801.3 214.6,800.9 216.1,800.5 217.6,800.1 219.1,799.7 220.6,799.3 222.1,798.9 223.6,798.5 225.1,798.1 226.6,797.7 228.1,797.3 229.6,796.9 231.1,796.5 232.6,796.2 234.1,795.8 235.6,795.4 237.1,795.0 238.6,794.6 240.1,794.3 241.6,793.9 243.1,793.5 244.6,793.2 246.1,792.8 247.6,792.4 249.1,792.1 250.5,791.7 252.0,791.3 253.5,791.0 255.0,790.6 256.5,790.3 258.0,789.9 259.5,789.6 261.0,789.2 262.5,788.9 264.0,788.5 265.5,788.2 267.0,787.9 268.5,787.5 270.0,787.2 271.5,786.8 273.0,786.5 274.5,786.2 276.0,785.8 277.5,785.5 279.0,785.2 280.5,784.9 282.0,784.5 283.5,784.2 285.0,783.9 286.5,783.6 288.0,783.3 289.5,783.0 291.0,782.6 292.5,782.3 294.0,782.0 295.5,781.7 297.0,781.4 298.5,781.1 300.0,780.8 301.5,780.5 303.0,780.2 304.5,779.9 306.0,779.6 307.5,779.3 308.9,779.1 310.4,778.8 311.9,778.5 313.4,778.2 314.9,777.9 316.4,777.6 317.9,777.4 319.4,777.1 320.9,776.8 322.4,776.5 323.9,776.3 325.4,776.0 326.9,775.7 328.4,775.5 329.9,775.2 331.4,774.9 332.9,774.7 334.4,774.4 335.9,774.2 337.4,773.9 338.9,773.6 340.4,773.4 341.9,773.1 343.4,772.9 344.9,772.7 346.4,772.4 347.9,772.2 349.4,771.9 350.9,771.7 352.4,771.5 353.9,771.2 355.4,771.0 356.9,770.8 358.4,770.5 359.9,770.3 361.4,770.1 362.9,769.9 364.4,769.6 365.8,769.4 367.3,769.2 368.8,769.0 370.3,768.8 371.8,768.6 373.3,768.3 374.8,768.1 376.3,767.9 377.8,767.7 379.3,767.5 380.8,767.3 382.3,767.1 383.8,766.9 385.3,766.7 386.8,766.5 388.3,766.3 389.8,766.1 391.3,766.0 392.8,765.8 394.3,765.6 395.8,765.4 397.3,765.2 398.8,765.0 400.3,764.9 401.8,764.7 403.3,764.5 404.8,764.3 406.3,764.2 407.8,764.0 409.3,763.8 410.8,763.7 412.3,763.5 413.8,763.3 415.3,763.2 416.8,763.0 418.3,762.9 419.7,762.7 421.2,762.6 422.7,762.4 424.2,762.3 425.7,762.1 427.2,762.0 428.7,761.8 430.2,761.7 431.7,761.6 433.2,761.4 434.7,761.3 436.2,761.1 437.7,761.0 439.2,760.9 440.7,760.8 442.2,760.6 443.7,760.5 445.2,760.4 446.7,760.3 448.2,760.1 449.7,760.0 451.2,759.9 452.7,759.8 454.2,759.7 455.7,759.6 457.2,759.5 458.7,759.4 460.2,759.3 461.7,759.2 463.2,759.1 464.7,759.0 466.2,758.9 467.7,758.8 469.2,758.7 470.7,758.6 472.2,758.5 473.6,758.4 475.1,758.3 476.6,758.2 478.1,758.1 479.6,758.1 481.1,758.0 482.6,757.9 484.1,757.8 485.6,757.8 487.1,757.7 488.6,757.6 490.1,757.6 491.6,757.5 493.1,757.4 494.6,757.4 496.1,757.3 497.6,757.2 499.1,757.2 500.6,757.1 502.1,757.1 503.6,757.0 505.1,757.0 506.6,756.9 508.1,756.9 509.6,756.8 511.1,756.8 512.6,756.8 514.1,756.7 515.6,756.7 517.1,756.6 518.6,756.6 520.1,756.6 521.6,756.5 523.1,756.5 524.6,756.5 526.1,756.5 527.5,756.4 529.0,756.4 530.5,756.4 532.0,756.4 533.5,756.4 535.0,756.4 536.5,756.4 538.0,756.3 539.5,756.3 541.0,756.3 542.5,756.3 544.0,756.3 545.5,756.3 547.0,756.3 548.5,756.3 550.0,756.3 551.5,756.3 553.0,756.4 554.5,756.4 556.0,756.4 557.5,756.4 559.0,756.4 560.5,756.4 562.0,756.4 563.5,756.5 565.0,756.5 566.5,756.5 568.0,756.5 569.5,756.6 571.0,756.6 572.5,756.6 574.0,756.7 575.5,756.7 577.0,756.7 578.5,756.8 579.9,756.8 581.4,756.9 582.9,756.9 584.4,757.0 585.9,757.0 587.4,757.1 588.9,757.1 590.4,757.2 591.9,757.2 593.4,757.3 594.9,757.3 596.4,757.4 597.9,757.5 599.4,757.5 600.9,757.6 602.4,757.7 603.9,757.7 605.4,757.8 606.9,757.9 608.4,758.0 609.9,758.0 611.4,758.1 612.9,758.2 614.4,758.3 615.9,758.4 617.4,758.5 618.9,758.6 620.4,758.7 621.9,758.7 623.4,758.8 624.9,758.9 626.4,759.0 627.9,759.1 629.4,759.2 630.9,759.3 632.3,759.4 633.8,759.6 635.3,759.7 636.8,759.8 638.3,759.9 639.8,760.0 641.3,760.1 642.8,760.2 644.3,760.4 645.8,760.5 647.3,760.6 648.8,760.7 650.3,760.9 651.8,761.0 653.3,761.1 654.8,761.3 656.3,761.4 657.8,761.5 659.3,761.7 660.8,761.8 662.3,762.0 663.8,762.1 665.3,762.2 666.8,762.4 668.3,762.5 669.8,762.7 671.3,762.8 672.8,763.0 674.3,763.2 675.8,763.3 677.3,763.5 678.8,763.6 680.3,763.8 681.8,764.0 683.3,764.1 684.8,764.3 686.2,764.5 687.7,764.7 689.2,764.8 690.7,765.0 692.2,765.2 693.7,765.4 695.2,765.6 696.7,765.7 698.2,765.9 699.7,766.1 701.2,766.3 702.7,766.5 704.2,766.7 705.7,766.9 707.2,767.1 708.7,767.3 710.2,767.5 711.7,767.7 713.2,767.9 714.7,768.1 716.2,768.3 717.7,768.5 719.2,768.7 720.7,768.9 722.2,769.2 723.7,769.4 725.2,769.6 726.7,769.8 728.2,770.0 729.7,770.3 731.2,770.5 732.7,770.7 734.2,770.9 735.7,771.2 737.2,771.4 738.7,771.7 740.2,771.9 741.6,772.1 743.1,772.4 744.6,772.6 746.1,772.9 747.6,773.1 749.1,773.4 750.6,773.6 752.1,773.9 753.6,774.1 755.1,774.4 756.6,774.6 758.1,774.9 759.6,775.1 761.1,775.4 762.6,775.7 764.1,775.9 765.6,776.2 767.1,776.5 768.6,776.8 770.1,777.0 771.6,777.3 773.1,777.6 774.6,777.9 776.1,778.1 777.6,778.4 779.1,778.7 780.6,779.0 782.1,779.3 783.6,779.6 785.1,779.9 786.6,780.2 788.1,780.5 789.6,780.8 791.1,781.1 792.6,781.4 794.1,781.7 795.6,782.0 797.1,782.3 798.5,782.6 800.0,782.9 801.5,783.2 803.0,783.5 804.5,783.8 806.0,784.2 807.5,784.5 809.0,784.8 810.5,785.1 812.0,785.5 813.5,785.8 815.0,786.1 816.5,786.4 818.0,786.8 819.5,787.1 821.0,787.5 822.5,787.8 824.0,788.1 825.5,788.5 827.0,788.8 828.5,789.2 830.0,789.5 831.5,789.9 833.0,790.2 834.5,790.6 836.0,790.9 837.5,791.3 839.0,791.6 840.5,792.0 842.0,792.4 843.5,792.7 845.0,793.1 846.5,793.5 848.0,793.8 849.5,794.2 851.0,794.6 852.5,794.9 854.0,795.3 855.5,795.7 857.0,796.1 858.4,796.5 859.9,796.9 861.4,797.2 862.9,797.6 864.4,798.0 865.9,798.4 867.4,798.8 868.9,799.2 870.4,799.6 871.9,800.0 873.4,800.4 874.9,800.8 876.4,801.2 877.9,801.6 879.4,802.0 880.9,802.4 882.4,802.8 883.9,803.2 885.4,803.7 886.9,804.1 888.4,804.5 889.9,804.9 891.4,805.3 892.9,805.8 894.4,806.2 895.9,806.6 897.4,807.1 898.9,807.5 900.4,807.9 901.9,808.4 903.4,808.8 904.9,809.2 906.4,809.7 907.9,810.1 909.4,810.6 910.9,811.0 912.4,811.5 913.9,811.9 915.4,812.4 916.9,812.8 918.4,813.3 919.8,813.7 921.3,814.2 922.8,814.6 924.3,815.1 925.8,815.6 927.3,816.0 928.8,816.5 930.3,817.0 931.8,817.5 933.3,817.9 934.8,818.4 936.3,818.9 937.8,819.4 939.3,819.8 940.8,820.3 942.3,820.8 943.8,821.3 945.3,821.8 946.8,822.3 948.3,822.8 949.8,823.3 951.3,823.8 952.8,824.3 954.3,824.8 955.8,825.3 957.3,825.8 958.8,826.3 960.3,826.8 961.8,827.3 963.3,827.8 964.8,828.3 966.3,828.8 967.8,829.3 969.3,829.9 970.8,830.4 972.3,830.9 973.8,831.4 975.3,832.0 976.8,832.5 978.3,833.0 979.8,833.5 981.3,834.1 982.8,834.6 984.3,835.1 985.8,835.7 987.2,836.2 988.7,836.8 990.2,837.3 991.7,837.9 993.2,838.4 994.7,839.0 996.2,839.5 997.7,840.1 999.2,840.6 1000.7,841.2 1002.2,841.7 1003.7,842.3 1006.7,834.4 1005.2,833.8 1003.7,833.3 1002.2,832.7 1000.6,832.2 999.1,831.6 997.6,831.1 996.1,830.5 994.6,830.0 993.1,829.4 991.6,828.9 990.1,828.3 988.6,827.8 987.1,827.2 985.6,826.7 984.1,826.2 982.6,825.6 981.1,825.1 979.6,824.6 978.0,824.0 976.5,823.5 975.0,823.0 973.5,822.4 972.0,821.9 970.5,821.4 969.0,820.9 967.5,820.4 966.0,819.9 964.5,819.3 963.0,818.8 961.5,818.3 960.0,817.8 958.5,817.3 957.0,816.8 955.4,816.3 953.9,815.8 952.4,815.3 950.9,814.8 949.4,814.3 947.9,813.8 946.4,813.3 944.9,812.8 943.4,812.4 941.9,811.9 940.4,811.4 938.9,810.9 937.4,810.4 935.9,809.9 934.4,809.5 932.8,809.0 931.3,808.5 929.8,808.0 928.3,807.6 926.8,807.1 925.3,806.6 923.8,806.2 922.3,805.7 920.8,805.3 919.3,804.8 917.8,804.3 916.3,803.9 914.8,803.4 913.3,803.0 911.8,802.5 910.2,802.1 908.7,801.7 907.2,801.2 905.7,800.8 904.2,800.3 902.7,799.9 901.2,799.5 899.7,799.0 898.2,798.6 896.7,798.2 895.2,797.7 893.7,797.3 892.2,796.9 890.7,796.5 889.1,796.0 887.6,795.6 886.1,795.2 884.6,794.8 883.1,794.4 881.6,794.0 880.1,793.5 878.6,793.1 877.1,792.7 875.6,792.3 874.1,791.9 872.6,791.5 871.1,791.1 869.6,790.7 868.1,790.3 866.5,789.9 865.0,789.5 863.5,789.2 862.0,788.8 860.5,788.4 859.0,788.0 857.5,787.6 856.0,787.2 854.5,786.9 853.0,786.5 851.5,786.1 850.0,785.7 848.5,785.4 847.0,785.0 845.4,784.6 843.9,784.3 842.4,783.9 840.9,783.5 839.4,783.2 837.9,782.8 836.4,782.5 834.9,782.1 833.4,781.7 831.9,781.4 830.4,781.0 828.9,780.7 827.4,780.3 825.9,780.0 824.3,779.7 822.8,779.3 821.3,779.0 819.8,778.6 818.3,778.3 816.8,778.0 815.3,777.6 813.8,777.3 812.3,777.0 810.8,776.7 809.3,776.3 807.8,776.0 806.3,775.7 804.8,775.4 803.3,775.1 801.7,774.8 800.2,774.4 798.7,774.1 797.2,773.8 795.7,773.5 794.2,773.2 792.7,772.9 791.2,772.6 789.7,772.3 788.2,772.0 786.7,771.7 785.2,771.4 783.7,771.1 782.2,770.8 780.6,770.5 779.1,770.3 777.6,770.0 776.1,769.7 774.6,769.4 773.1,769.1 771.6,768.8 770.1,768.6 768.6,768.3 767.1,768.0 765.6,767.8 764.1,767.5 762.6,767.2 761.1,767.0 759.5,766.7 758.0,766.4 756.5,766.2 755.0,765.9 753.5,765.7 752.0,765.4 750.5,765.2 749.0,764.9 747.5,764.7 746.0,764.4 744.5,764.2 743.0,763.9 741.5,763.7 740.0,763.4 738.4,763.2 736.9,763.0 735.4,762.7 733.9,762.5 732.4,762.3 730.9,762.0 729.4,761.8 727.9,761.6 726.4,761.4 724.9,761.2 723.4,760.9 721.9,760.7 720.4,760.5 718.9,760.3 717.3,760.1 715.8,759.9 714.3,759.7 712.8,759.5 711.3,759.2 709.8,759.0 708.3,758.8 706.8,758.6 705.3,758.4 703.8,758.3 702.3,758.1 700.8,757.9 699.3,757.7 697.8,757.5 696.2,757.3 694.7,757.1 693.2,756.9 691.7,756.8 690.2,756.6 688.7,756.4 687.2,756.2 685.7,756.1 684.2,755.9 682.7,755.7 681.2,755.6 679.7,755.4 678.2,755.2 676.7,755.1 675.1,754.9 673.6,754.7 672.1,754.6 670.6,754.4 669.1,754.3 667.6,754.1 666.1,754.0 664.6,753.8 663.1,753.7 661.6,753.5 660.1,753.4 658.6,753.3 657.1,753.1 655.5,753.0 654.0,752.9 652.5,752.7 651.0,752.6 649.5,752.5 648.0,752.3 646.5,752.2 645.0,752.1 643.5,752.0 642.0,751.8 640.5,751.7 639.0,751.6 637.5,751.5 636.0,751.4 634.4,751.3 632.9,751.2 631.4,751.1 629.9,751.0 628.4,750.9 626.9,750.8 625.4,750.7 623.9,750.6 622.4,750.5 620.9,750.4 619.4,750.3 617.9,750.2 616.4,750.1 614.9,750.0 613.3,749.9 611.8,749.8 610.3,749.8 608.8,749.7 607.3,749.6 605.8,749.5 604.3,749.5 602.8,749.4 601.3,749.3 599.8,749.2 598.3,749.2 596.8,749.1 595.3,749.1 593.8,749.0 592.2,748.9 590.7,748.9 589.2,748.8 587.7,748.8 586.2,748.7 584.7,748.7 583.2,748.6 581.7,748.6 580.2,748.5 578.7,748.5 577.2,748.4 575.7,748.4 574.2,748.4 572.6,748.3 571.1,748.3 569.6,748.3 568.1,748.2 566.6,748.2 565.1,748.2 563.6,748.2 562.1,748.1 560.6,748.1 559.1,748.1 557.6,748.1 556.1,748.1 554.6,748.1 553.1,748.1 551.5,748.0 550.0,748.0 548.5,748.0 547.0,748.0 545.5,748.0 544.0,748.0 542.5,748.0 541.0,748.0 539.5,748.0 538.0,748.0 536.5,748.1 535.0,748.1 533.5,748.1 532.0,748.1 530.4,748.1 528.9,748.1 527.4,748.1 525.9,748.2 524.4,748.2 522.9,748.2 521.4,748.2 519.9,748.3 518.4,748.3 516.9,748.3 515.4,748.4 513.9,748.4 512.4,748.5 510.8,748.5 509.3,748.5 507.8,748.6 506.3,748.6 504.8,748.7 503.3,748.7 501.8,748.8 500.3,748.8 498.8,748.9 497.3,748.9 495.8,749.0 494.3,749.1 492.8,749.1 491.3,749.2 489.7,749.3 488.2,749.3 486.7,749.4 485.2,749.5 483.7,749.5 482.2,749.6 480.7,749.7 479.2,749.8 477.7,749.9 476.2,749.9 474.7,750.0 473.2,750.1 471.7,750.2 470.2,750.3 468.6,750.4 467.1,750.5 465.6,750.6 464.1,750.7 462.6,750.8 461.1,750.9 459.6,751.0 458.1,751.1 456.6,751.2 455.1,751.3 453.6,751.4 452.1,751.5 450.6,751.6 449.1,751.7 447.5,751.9 446.0,752.0 444.5,752.1 443.0,752.2 441.5,752.4 440.0,752.5 438.5,752.6 437.0,752.7 435.5,752.9 434.0,753.0 432.5,753.1 431.0,753.3 429.5,753.4 427.9,753.6 426.4,753.7 424.9,753.9 423.4,754.0 421.9,754.2 420.4,754.3 418.9,754.5 417.4,754.6 415.9,754.8 414.4,754.9 412.9,755.1 411.4,755.3 409.9,755.4 408.4,755.6 406.8,755.7 405.3,755.9 403.8,756.1 402.3,756.3 400.8,756.4 399.3,756.6 397.8,756.8 396.3,757.0 394.8,757.2 393.3,757.3 391.8,757.5 390.3,757.7 388.8,757.9 387.3,758.1 385.7,758.3 384.2,758.5 382.7,758.7 381.2,758.9 379.7,759.1 378.2,759.3 376.7,759.5 375.2,759.7 373.7,759.9 372.2,760.1 370.7,760.3 369.2,760.5 367.7,760.8 366.2,761.0 364.6,761.2 363.1,761.4 361.6,761.6 360.1,761.9 358.6,762.1 357.1,762.3 355.6,762.5 354.1,762.8 352.6,763.0 351.1,763.2 349.6,763.5 348.1,763.7 346.6,764.0 345.1,764.2 343.5,764.5 342.0,764.7 340.5,764.9 339.0,765.2 337.5,765.5 336.0,765.7 334.5,766.0 333.0,766.2 331.5,766.5 330.0,766.7 328.5,767.0 327.0,767.3 325.5,767.5 324.0,767.8 322.4,768.1 320.9,768.3 319.4,768.6 317.9,768.9 316.4,769.2 314.9,769.5 313.4,769.7 311.9,770.0 310.4,770.3 308.9,770.6 307.4,770.9 305.9,771.2 304.4,771.5 302.9,771.8 301.3,772.1 299.8,772.4 298.3,772.7 296.8,773.0 295.3,773.3 293.8,773.6 292.3,773.9 290.8,774.2 289.3,774.5 287.8,774.8 286.3,775.1 284.8,775.4 283.3,775.8 281.8,776.1 280.2,776.4 278.7,776.7 277.2,777.1 275.7,777.4 274.2,777.7 272.7,778.0 271.2,778.4 269.7,778.7 268.2,779.0 266.7,779.4 265.2,779.7 263.7,780.1 262.2,780.4 260.7,780.8 259.1,781.1 257.6,781.5 256.1,781.8 254.6,782.2 253.1,782.5 251.6,782.9 250.1,783.2 248.6,783.6 247.1,784.0 245.6,784.3 244.1,784.7 242.6,785.1 241.1,785.4 239.6,785.8 238.1,786.2 236.5,786.5 235.0,786.9 233.5,787.3 232.0,787.7 230.5,788.1 229.0,788.4 227.5,788.8 226.0,789.2 224.5,789.6 223.0,790.0 221.5,790.4 220.0,790.8 218.5,791.2 217.0,791.6 215.4,792.0 213.9,792.4 212.4,792.8 210.9,793.2 209.4,793.6 207.9,794.0 206.4,794.4 204.9,794.9 203.4,795.3 201.9,795.7 200.4,796.1 198.9,796.5 197.4,797.0 195.9,797.4 194.4,797.8 192.8,798.2 191.3,798.7 189.8,799.1 188.3,799.5 186.8,800.0 185.3,800.4 183.8,800.8 182.3,801.3 180.8,801.7 179.3,802.2 177.8,802.6 176.3,803.1 174.8,803.5 173.3,804.0 171.7,804.4 170.2,804.9 168.7,805.3 167.2,805.8 165.7,806.3 164.2,806.7 162.7,807.2 161.2,807.7 159.7,808.1 158.2,808.6 156.7,809.1 155.2,809.6 153.7,810.0 152.2,810.5 150.7,811.0 149.1,811.5 147.6,812.0 146.1,812.4 144.6,812.9 143.1,813.4 141.6,813.9 140.1,814.4 138.6,814.9 137.1,815.4 135.6,815.9 134.1,816.4 132.6,816.9 131.1,817.4"/>
</g>
<text x="125.17" y="905.60" font-size="23.3" letter-spacing="0.000" fill="#4D4D4D" stroke="#4D4D4D" stroke-width="0.35">0</text>
<text x="347.51" y="905.60" font-size="23.3" letter-spacing="0.350" fill="#4D4D4D" stroke="#4D4D4D" stroke-width="0.35">2000</text>
<text x="591.06" y="905.60" font-size="23.3" letter-spacing="0.100" fill="#4D4D4D" stroke="#4D4D4D" stroke-width="0.35">4000</text>
<text x="832.34" y="905.60" font-size="23.3" letter-spacing="0.407" fill="#4D4D4D" stroke="#4D4D4D" stroke-width="0.35">6000</text>
<text x="61.57" y="832.00" font-size="23.3" letter-spacing="0.000" fill="#4D4D4D" stroke="#4D4D4D" stroke-width="0.35">0</text>
<text x="49.52" y="647.00" font-size="23.3" letter-spacing="-0.320" fill="#4D4D4D" stroke="#4D4D4D" stroke-width="0.35">10</text>
<text x="48.21" y="462.80" font-size="23.3" letter-spacing="0.790" fill="#4D4D4D" stroke="#4D4D4D" stroke-width="0.35">20</text>
<text x="48.21" y="277.80" font-size="23.3" letter-spacing="0.790" fill="#4D4D4D" stroke="#4D4D4D" stroke-width="0.35">30</text>
<text x="493.26" y="939.50" font-size="28.7" letter-spacing="0.763" fill="#000" stroke="#000" stroke-width="0.35">Total cases</text>
<text class="ax" transform="translate(37 488.7) rotate(-90)" text-anchor="middle" stroke="#000" stroke-width="0.35">Deaths</text>
<text x="1092.69" y="331.70" font-size="28.7" letter-spacing="0.027" fill="#000" stroke="#000" stroke-width="0.35">Cluster Category</text>
<g class="pt"><use href="#p" x="1116.5" y="372.5" fill="#1B9E77" stroke="#1B9E77"/></g>
<rect x="1097" y="368.0" width="37" height="8" fill="#1B9E77"/>
<text x="1152.66" y="381.30" font-size="22.8" letter-spacing="-0.408" fill="#000" stroke="#000" stroke-width="0.35">community</text>
<g class="pt"><use href="#p" x="1116.5" y="418.5" fill="#D95F02" stroke="#D95F02"/></g>
<rect x="1097" y="414.0" width="37" height="8" fill="#D95F02"/>
<text x="1152.69" y="427.30" font-size="22.8" letter-spacing="-0.041" fill="#000" stroke="#000" stroke-width="0.35">detentionCentre</text>
<g class="pt"><use href="#p" x="1116.5" y="464.5" fill="#7570B3" stroke="#7570B3"/></g>
<rect x="1097" y="460.0" width="37" height="8" fill="#7570B3"/>
<text x="1152.68" y="473.30" font-size="22.8" letter-spacing="0.016" fill="#000" stroke="#000" stroke-width="0.35">education</text>
<g class="pt"><use href="#p" x="1116.5" y="510.5" fill="#E7298A" stroke="#E7298A"/></g>
<rect x="1097" y="506.0" width="37" height="8" fill="#E7298A"/>
<text x="1152.22" y="519.30" font-size="22.8" letter-spacing="-0.103" fill="#000" stroke="#000" stroke-width="0.35">highRisk</text>
<g class="pt"><use href="#p" x="1116.5" y="556.5" fill="#66A61E" stroke="#66A61E"/></g>
<rect x="1097" y="552.0" width="37" height="8" fill="#66A61E"/>
<text x="1152.26" y="565.30" font-size="22.8" letter-spacing="-0.118" fill="#000" stroke="#000" stroke-width="0.35">import</text>
<g class="pt"><use href="#p" x="1116.5" y="602.5" fill="#E6AB02" stroke="#E6AB02"/></g>
<rect x="1097" y="598.0" width="37" height="8" fill="#E6AB02"/>
<text x="1152.26" y="611.30" font-size="22.8" letter-spacing="-0.020" fill="#000" stroke="#000" stroke-width="0.35">religious</text>
<g class="pt"><use href="#p" x="1116.5" y="648.5" fill="#A6761D" stroke="#A6761D"/></g>
<rect x="1097" y="644.0" width="37" height="8" fill="#A6761D"/>
<text x="1153.70" y="657.30" font-size="22.8" letter-spacing="-0.257" fill="#000" stroke="#000" stroke-width="0.35">workplace</text>
</svg></body></html>
